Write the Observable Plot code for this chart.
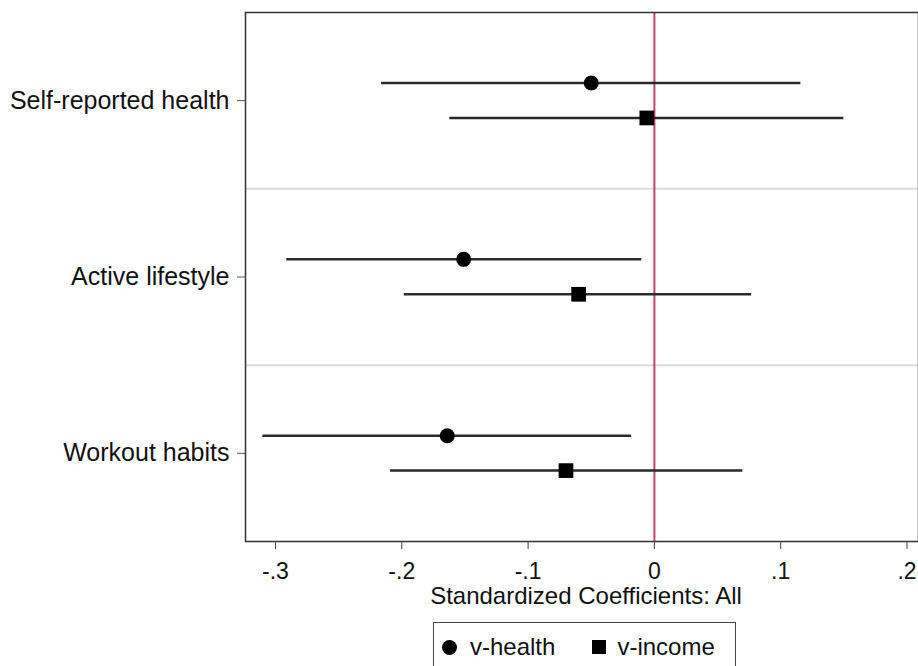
<!DOCTYPE html>
<html>
<head>
<meta charset="utf-8">
<script src="https://cdn.jsdelivr.net/npm/d3@7"></script>
<script src="https://cdn.jsdelivr.net/npm/@observablehq/plot@0.6"></script>
<style>
  body { margin: 0; background: #fff; font-family: "Liberation Sans", Arial, sans-serif; }
  #legend {
    box-sizing: border-box;
    margin-left: 433px; margin-top: 10px;
    width: 303px; height: 50px;
    border: 1px solid #444;
    display: flex; align-items: center;
    font-size: 24px; color: #111;
  }
  .sym { display: inline-block; background: #000; }
</style>
</head>
<body>
<div id="chart"></div>
<div id="legend"></div>
<script>
const categories = ["Self-reported health", "Active lifestyle", "Workout habits"];
const series = ["v-health", "v-income"];
const healthCoef = [-0.050, -0.151, -0.164];
const healthLo   = [-0.216, -0.291, -0.310];
const healthHi   = [ 0.116, -0.010, -0.018];
const incomeCoef = [-0.006, -0.060, -0.070];
const incomeLo   = [-0.162, -0.198, -0.209];
const incomeHi   = [ 0.150,  0.077,  0.070];
const xTicks = [-0.3, -0.2, -0.1, 0, 0.1, 0.2];
const xLabel = "Standardized Coefficients: All";

const health = categories.map((c, i) => ({cat: c, idx: i + 1, coef: healthCoef[i], lo: healthLo[i], hi: healthHi[i]}));
const income = categories.map((c, i) => ({cat: c, idx: i + 1, coef: incomeCoef[i], lo: incomeLo[i], hi: incomeHi[i]}));

const fmt = v => v === 0 ? "0" : (v < 0 ? "-" : "") + Math.abs(v).toFixed(1).replace(/^0/, "");

const offH = -0.1, offI = 0.098;

const chart = Plot.plot({
  width: 918,
  height: 612,
  marginLeft: 245,
  marginRight: 0,
  marginTop: 12,
  marginBottom: 71,
  style: {fontFamily: "'Liberation Sans', Arial, sans-serif", fontSize: "24px", color: "#111", background: "#fff"},
  x: {domain: [-0.32375, 0.20911]},
  y: {domain: [0.5, 3.5], reverse: true},
  marks: [
    Plot.ruleY([1.5, 2.5], {stroke: "#dcdcdc", strokeWidth: 2}),
    Plot.ruleX([0], {stroke: "#c8406a", strokeWidth: 2}),
    Plot.ruleY(health, {y: d => d.idx + offH, x1: "lo", x2: "hi", stroke: "#2a2a2a", strokeWidth: 2.5}),
    Plot.ruleY(income, {y: d => d.idx + offI, x1: "lo", x2: "hi", stroke: "#2a2a2a", strokeWidth: 2.5}),
    Plot.dot(health, {x: "coef", y: d => d.idx + offH, r: 7.5, fill: "#000", symbol: "circle"}),
    Plot.dot(income, {x: "coef", y: d => d.idx + offI, r: 8.3, fill: "#000", symbol: "square"}),
    Plot.frame({stroke: "#333", strokeWidth: 1.5}),
    Plot.axisX({ticks: xTicks, tickFormat: fmt, tickSize: 8, tickPadding: 13, fontSize: 23, label: null, stroke: "#444"}),
    Plot.text([xLabel], {frameAnchor: "bottom", dy: 62, fontSize: 24, fill: "#111", dx: 4}),
    Plot.axisY({ticks: [1, 2, 3], tickFormat: i => categories[i - 1], tickSize: 8, tickPadding: 8, fontSize: 25, label: null, stroke: "#555"})
  ]
});
document.getElementById("chart").append(chart);

const leg = document.getElementById("legend");
leg.innerHTML =
  `<span class="sym" style="width:15px;height:15px;border-radius:50%;margin-left:8px"></span>` +
  `<span style="margin-left:13px">${series[0]}</span>` +
  `<span class="sym" style="width:14px;height:14px;margin-left:37px"></span>` +
  `<span style="margin-left:11px">${series[1]}</span>`;
</script>
</body>
</html>
